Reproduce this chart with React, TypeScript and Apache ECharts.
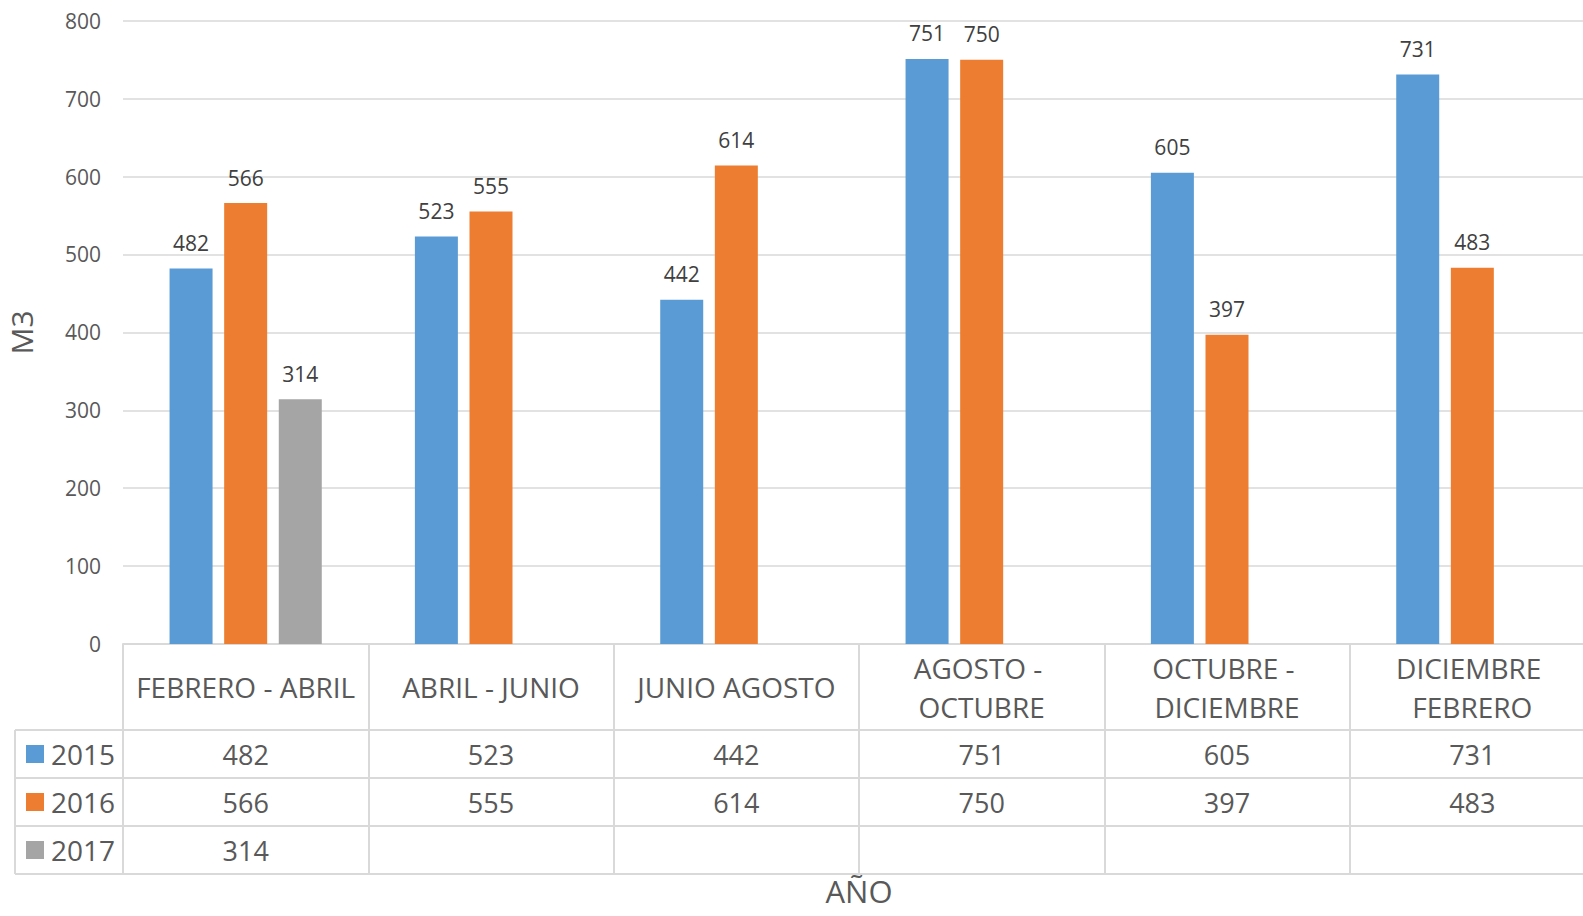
import React, { useEffect, useRef } from "react";
import * as echarts from "echarts";

// Periods (categories) and the volume per year, in M3
const periods = [
  "FEBRERO - ABRIL",
  "ABRIL - JUNIO",
  "JUNIO AGOSTO",
  "AGOSTO - OCTUBRE",
  "OCTUBRE - DICIEMBRE",
  "DICIEMBRE FEBRERO",
];
const years = ["2015", "2016", "2017"];
const values2015 = [482, 523, 442, 751, 605, 731];
const values2016 = [566, 555, 614, 750, 397, 483];
const values2017 = [314, null, null, null, null, null];
const yTicks = [0, 100, 200, 300, 400, 500, 600, 700, 800];

const seriesValues = [values2015, values2016, values2017];
const colors = ["#5B9BD5", "#ED7D31", "#A5A5A5"];

const FONT = "'Open Sans', 'Noto Sans', sans-serif";
const TEXT = "#595959";
const LINE = "#d9d9d9";

// chart geometry (px)
const W = 1600;
const H = 916;
const GRID_LEFT = 123;
const GRID_RIGHT = 5;
const GRID_TOP = 20.7;
const AXIS_Y = 644;
const HEADER_BOTTOM = 730;
const ROW_H = 48;
const TABLE_LEFT = 15;

export default function App() {
  const ref = useRef<HTMLDivElement>(null);

  useEffect(() => {
    if (!ref.current) return;
    const chart = echarts.init(ref.current, null, { renderer: "svg" });

    const rowCenters = years.map((_, i) => HEADER_BOTTOM + ROW_H * i + ROW_H / 2);

    // one extra category axis per table row, showing that year's values
    const rowAxes = seriesValues.map((vals, i) => ({
      type: "category" as const,
      data: periods,
      position: "bottom" as const,
      offset: rowCenters[i] - AXIS_Y,
      axisLine: { show: false },
      axisTick: { show: false },
      axisLabel: {
        interval: 0,
        margin: 0,
        verticalAlign: "middle" as const,
        fontFamily: FONT,
        fontSize: 27,
        color: TEXT,
        formatter: (_: string, idx: number) =>
          vals[idx] == null ? "" : String(vals[idx]),
      },
    }));

    const tableBottom = HEADER_BOTTOM + ROW_H * years.length;
    const hLines = [HEADER_BOTTOM, ...years.map((_, i) => HEADER_BOTTOM + ROW_H * (i + 1))];

    chart.setOption({
      animation: false,
      color: colors,
      grid: {
        left: GRID_LEFT,
        right: GRID_RIGHT,
        top: GRID_TOP,
        bottom: H - AXIS_Y,
        containLabel: false,
        outerBoundsMode: "none",
      },
      legend: {
        orient: "vertical",
        left: 26,
        top: rowCenters[0] - 16,
        padding: 0,
        itemGap: 16,
        itemWidth: 18,
        itemHeight: 18,
        icon: "rect",
        selectedMode: false,
        textStyle: {
          fontFamily: FONT,
          fontSize: 28,
          lineHeight: 32,
          color: TEXT,
          padding: [0, 0, 0, 2],
        },
        data: years,
      },
      xAxis: [
        {
          type: "category",
          data: periods,
          name: "AÑO",
          nameLocation: "middle",
          nameGap: 231,
          nameTextStyle: { fontFamily: FONT, fontSize: 31, lineHeight: 31, color: TEXT },
          axisLine: { lineStyle: { color: LINE, width: 2 } },
          axisTick: {
            show: true,
            interval: 0,
            length: tableBottom - AXIS_Y,
            lineStyle: { color: LINE, width: 2 },
          },
          axisLabel: {
            interval: 0,
            margin: (HEADER_BOTTOM - AXIS_Y) / 2,
            verticalAlign: "middle",
            width: 234,
            overflow: "break",
            lineHeight: 39,
            fontFamily: FONT,
            fontSize: 28,
            color: TEXT,
          },
        },
        ...rowAxes,
      ],
      yAxis: {
        type: "value",
        min: yTicks[0],
        max: yTicks[yTicks.length - 1],
        interval: 100,
        name: "M3",
        nameLocation: "middle",
        nameGap: 87,
        nameRotate: 90,
        nameTextStyle: { fontFamily: FONT, fontSize: 30, color: TEXT },
        axisLine: { show: false },
        axisTick: { show: false },
        axisLabel: {
          margin: 22,
          fontFamily: FONT,
          fontSize: 21,
          color: TEXT,
        },
        splitLine: { lineStyle: { color: LINE, width: 1.5 } },
      },
      series: years.map((y, i) => ({
        name: y,
        type: "bar",
        data: seriesValues[i],
        barWidth: 43,
        barGap: "27%",
        itemStyle: { color: colors[i] },
        label: {
          show: true,
          position: "top",
          distance: 15,
          fontFamily: FONT,
          fontSize: 21,
          color: "#404040",
        },
      })),
      graphic: [
        // table row separators, starting under the legend column
        ...hLines.map((y) => ({
          type: "line",
          shape: { x1: TABLE_LEFT, y1: y, x2: W, y2: y },
          style: { stroke: LINE, lineWidth: 2 },
          silent: true,
        })),
        {
          type: "line",
          shape: { x1: TABLE_LEFT, y1: HEADER_BOTTOM, x2: TABLE_LEFT, y2: tableBottom },
          style: { stroke: LINE, lineWidth: 2 },
          silent: true,
        },
      ],
    });

    return () => chart.dispose();
  }, []);

  return (
    <div
      style={{
        position: "fixed",
        left: 0,
        top: 0,
        width: 1583,
        height: 916,
        overflow: "hidden",
        background: "#fff",
      }}
    >
      <div ref={ref} style={{ width: W, height: H }} />
    </div>
  );
}
